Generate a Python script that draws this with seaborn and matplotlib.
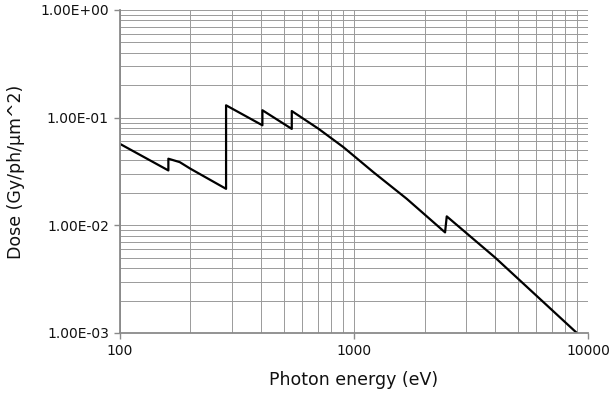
import matplotlib
matplotlib.use("Agg")
import matplotlib.pyplot as plt
import matplotlib.ticker as mticker
import seaborn as sns
import pandas as pd

# Data (photon energy in eV, dose in Gy/ph/um^2)
energy = [100, 161, 161, 180, 200, 284, 284, 406, 406, 542, 542, 704, 900, 1210, 1680,
          2448, 2489, 4004, 8950]
dose = [0.057, 0.0323, 0.0415, 0.0386, 0.0335, 0.0218, 0.130, 0.0848, 0.117, 0.0785, 0.115,
        0.0789, 0.0532, 0.0311, 0.0176, 0.00859, 0.0121, 0.00502, 0.001]

x_ticks = [100, 1000, 10000]
x_tick_labels = ["100", "1000", "10000"]
y_ticks = [1e-3, 1e-2, 1e-1, 1e0]
y_tick_labels = ["1.00E-03", "1.00E-02", "1.00E-01", "1.00E+00"]

df = pd.DataFrame({"energy": energy, "dose": dose})

sns.set_theme(style="white")
plt.rcParams["font.family"] = ["DejaVu Sans"]

fig, ax = plt.subplots(figsize=(6.12, 3.95), dpi=100)
fig.subplots_adjust(left=0.196, right=0.961, top=0.975, bottom=0.157)

ax.set_xscale("log")
ax.set_yscale("log")
sns.lineplot(data=df, x="energy", y="dose", estimator=None, sort=False,
             color="black", linewidth=1.6, ax=ax)

ax.set_xlim(100, 10000)
ax.set_ylim(1e-3, 1)
ax.set_xticks(x_ticks)
ax.set_xticklabels(x_tick_labels)
ax.set_yticks(y_ticks)
ax.set_yticklabels(y_tick_labels)
ax.xaxis.set_minor_locator(mticker.LogLocator(base=10, subs=range(2, 10)))
ax.yaxis.set_minor_locator(mticker.LogLocator(base=10, subs=range(2, 10)))
ax.xaxis.set_minor_formatter(mticker.NullFormatter())
ax.yaxis.set_minor_formatter(mticker.NullFormatter())

ax.grid(True, which="both", color="#9a9a9a", linewidth=0.7)
for s in ["top", "right"]:
    ax.spines[s].set_visible(False)
for s in ["left", "bottom"]:
    ax.spines[s].set_color("#8a8a8a")
    ax.spines[s].set_linewidth(1.3)

ax.tick_params(which="major", direction="out", length=4, width=1, color="#8a8a8a",
               labelsize=10, pad=4, left=True, bottom=True, labelcolor="#111111")
ax.tick_params(which="minor", left=False, bottom=False)

ax.set_xlabel("Photon energy (eV)", fontsize=12.5, labelpad=9, color="#111111")
ax.set_ylabel("Dose (Gy/ph/μm^2)", fontsize=12.5, labelpad=11, color="#111111")

fig.savefig("out.png", dpi=100)
